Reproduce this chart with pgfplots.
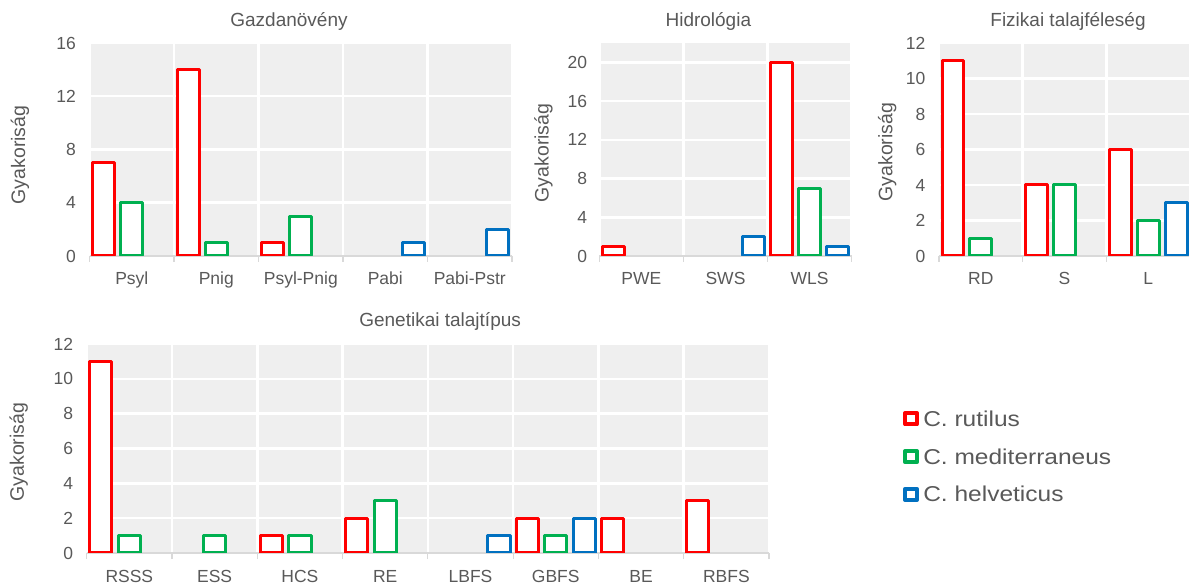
\documentclass[border=0pt]{standalone}
\usepackage{fontspec}
\setmainfont{Liberation Sans}
\newfontfamily\legendfont[FakeStretch=1.14]{Liberation Sans}
\usepackage{pgfplots}
\pgfplotsset{compat=1.18}

\definecolor{cred}{HTML}{FF0000}
\definecolor{cgreen}{HTML}{00B050}
\definecolor{cblue}{HTML}{0070C0}
\definecolor{txt}{HTML}{595959}
\definecolor{bg}{HTML}{EFEFEF}
\definecolor{axl}{HTML}{D9D9D9}

\pgfplotsset{
  panel/.style={
    scale only axis, anchor=south west,
    ymin=0,
    axis background/.style={fill=bg},
    axis x line*=bottom, axis y line*=left,
    y axis line style={draw=none},
    x axis line style={draw=axl, line width=1.2bp},
    xtick style={draw=axl, line width=1.2bp},
    minor tick style={draw=axl, line width=1.2bp},
    ytick style={draw=none},
    major tick length=0pt, minor tick length=6bp, tick align=outside,
    ymajorgrids, xminorgrids,
    major grid style={white, line width=2.5bp},
    minor grid style={white, line width=2.5bp},
    ybar, bar width=0.26,
    every axis plot/.append style={fill=white, line width=3bp, line join=round},
    tick label style={font=\fontsize{17.5bp}{20bp}\selectfont, text=txt},
    /pgf/number format/assume math mode=true,
    yticklabel style={inner sep=0pt, xshift=-13.5bp},
    xticklabel style={inner sep=0pt, yshift=-16bp},
    ylabel={Gyakoriság},
    ylabel style={anchor=center, font=\fontsize{19.5bp}{22bp}\selectfont, text=txt},
    title style={font=\fontsize{19bp}{22bp}\selectfont, text=txt, anchor=base, yshift=11bp},
  },
  top/.style={height=213bp},
  rut/.style={draw=cred, bar shift=-0.334},
  med/.style={draw=cgreen, bar shift=0},
  hel/.style={draw=cblue, bar shift=0.334},
}

\begin{document}
\begin{tikzpicture}
\useasboundingbox (0,0) rectangle (1189bp,585bp);

% Host plant
\begin{axis}[panel, top, at={(89.6bp,329bp)}, width=422.4bp,
  xmin=-0.5, xmax=4.5, ymax=16, ytick={0,4,...,16},
  xtick={0,...,4}, xticklabels={Psyl,Pnig,Psyl-Pnig,Pabi,Pabi-Pstr},
  minor xtick={-0.5,0.5,...,4.5},
  title={Gazdanövény}, title style={at={(axis description cs:0.472,1)}},
  ylabel style={at={(axis description cs:-0.165,0.474)}}]
\addplot[rut] coordinates {(0,7) (1,14) (2,1)};
\addplot[med] coordinates {(0,4) (1,1) (2,3)};
\addplot[hel] coordinates {(3,1) (4,2)};
\end{axis}

% Hydrology
\begin{axis}[panel, top, at={(599.3bp,329bp)}, width=252.4bp,
  xmin=-0.5, xmax=2.5, ymax=22, ytick={0,4,...,20},
  xtick={0,1,2}, xticklabels={PWE,SWS,WLS},
  minor xtick={-0.5,0.5,...,2.5},
  title={Hidrológia}, title style={at={(axis description cs:0.432,1)}},
  yticklabel style={xshift=1.5bp},
  ylabel style={at={(axis description cs:-0.221,0.484)}}]
\addplot[rut] coordinates {(0,1) (2,20)};
\addplot[med] coordinates {(2,7)};
\addplot[hel] coordinates {(1,2) (2,1)};
\end{axis}

% Physical soil texture
\begin{axis}[panel, top, at={(939bp,329bp)}, width=251bp,
  xmin=-0.5, xmax=2.5, ymax=12, ytick={0,2,...,12},
  xtick={0,1,2}, xticklabels={RD,S,L},
  minor xtick={-0.5,0.5,...,2.5},
  title={Fizikai talajféleség}, title style={at={(axis description cs:0.514,1)}},
  ylabel style={at={(axis description cs:-0.206,0.488)}}]
\addplot[rut] coordinates {(0,11) (1,4) (2,6)};
\addplot[med] coordinates {(0,1) (1,4) (2,2)};
\addplot[hel] coordinates {(2,3)};
\end{axis}

% Genetic soil type
\begin{axis}[panel, at={(86.7bp,32bp)}, width=682.3bp, height=209bp,
  xmin=-0.5, xmax=7.5, ymax=12, ytick={0,2,...,12},
  xtick={0,...,7}, xticklabels={RSSS,ESS,HCS,RE,LBFS,GBFS,BE,RBFS},
  minor xtick={-0.5,0.5,...,7.5},
  xticklabel style={yshift=-1bp},
  title={Genetikai talajtípus}, title style={at={(axis description cs:0.518,1)}, yshift=1bp},
  ylabel style={at={(axis description cs:-0.0997,0.483)}},
  every axis plot/.append style={legend image code/.code={
    \draw[#1, line width=4bp, fill=white] (2bp,-3.6bp) rectangle (13.5bp,7.8bp);}},
  legend cell align=left,
  legend style={draw=none, fill=none, at={(axis description cs:1.1965,0.452)}, anchor=west,
    inner sep=0pt, font=\legendfont\fontsize{21.5bp}{24bp}\selectfont, text=txt,
    nodes={inner sep=0pt, text height=15bp, text depth=4bp},
    row sep=18.5bp,
    /tikz/every odd column/.append style={column sep=4.5bp}}]
\addplot[rut] coordinates {(0,11) (2,1) (3,2) (5,2) (6,2) (7,3)};
\addplot[med] coordinates {(0,1) (1,1) (2,1) (3,3) (5,1)};
\addplot[hel] coordinates {(4,1) (5,2)};
\legend{C. rutilus, C. mediterraneus, C. helveticus}
\end{axis}
\end{tikzpicture}
\end{document}
